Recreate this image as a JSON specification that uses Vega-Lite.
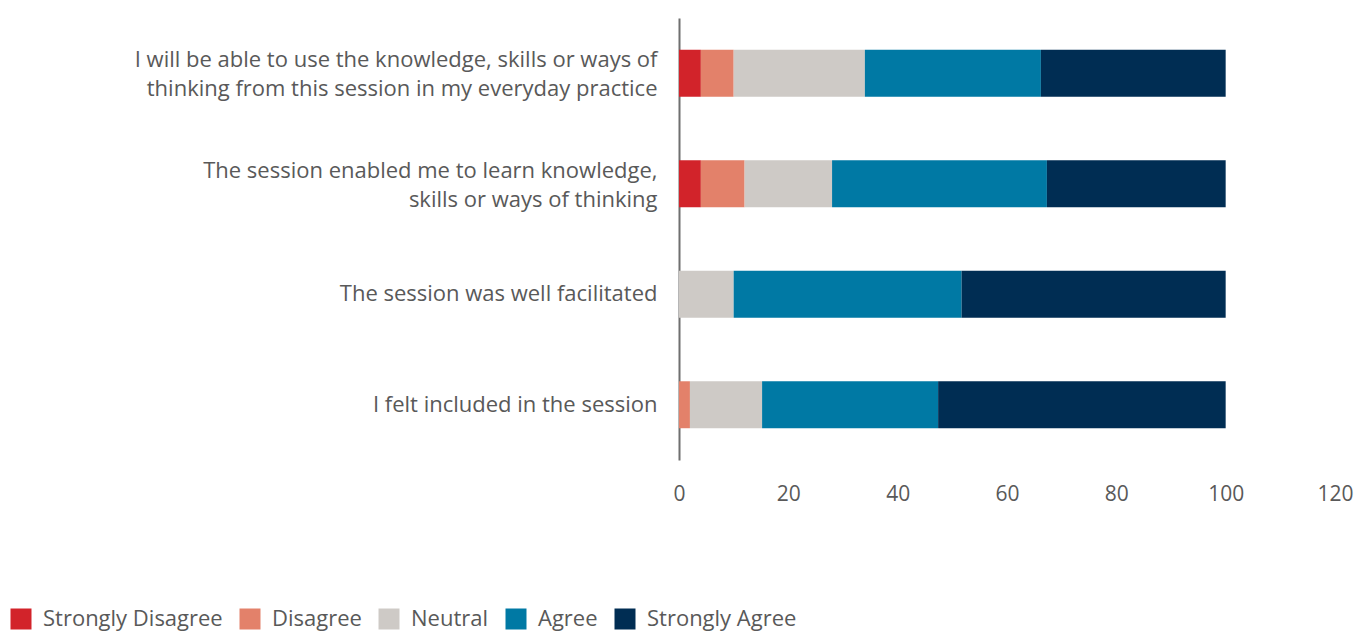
{
  "$schema": "https://vega.github.io/schema/vega-lite/v6.json",
  "autosize": "none",
  "width": 656,
  "height": 442,
  "padding": {"left": 679, "top": 18, "right": 20, "bottom": 173},
  "background": "white",
  "config": {"view": {"stroke": null}, "font": "Open Sans"},
  "data": {
    "values": [
      {"q": "I will be able to use the knowledge, skills or ways of|thinking from this session in my everyday practice", "r": "Strongly Disagree", "k": 1, "v": 4},
      {"q": "I will be able to use the knowledge, skills or ways of|thinking from this session in my everyday practice", "r": "Disagree", "k": 2, "v": 6},
      {"q": "I will be able to use the knowledge, skills or ways of|thinking from this session in my everyday practice", "r": "Neutral", "k": 3, "v": 24},
      {"q": "I will be able to use the knowledge, skills or ways of|thinking from this session in my everyday practice", "r": "Agree", "k": 4, "v": 32.2},
      {"q": "I will be able to use the knowledge, skills or ways of|thinking from this session in my everyday practice", "r": "Strongly Agree", "k": 5, "v": 33.8},
      {"q": "The session enabled me to learn knowledge,|skills or ways of thinking", "r": "Strongly Disagree", "k": 1, "v": 4},
      {"q": "The session enabled me to learn knowledge,|skills or ways of thinking", "r": "Disagree", "k": 2, "v": 8},
      {"q": "The session enabled me to learn knowledge,|skills or ways of thinking", "r": "Neutral", "k": 3, "v": 16},
      {"q": "The session enabled me to learn knowledge,|skills or ways of thinking", "r": "Agree", "k": 4, "v": 39.3},
      {"q": "The session enabled me to learn knowledge,|skills or ways of thinking", "r": "Strongly Agree", "k": 5, "v": 32.7},
      {"q": "The session was well facilitated", "r": "Neutral", "k": 3, "v": 10},
      {"q": "The session was well facilitated", "r": "Agree", "k": 4, "v": 41.7},
      {"q": "The session was well facilitated", "r": "Strongly Agree", "k": 5, "v": 48.3},
      {"q": "I felt included in the session", "r": "Disagree", "k": 2, "v": 2},
      {"q": "I felt included in the session", "r": "Neutral", "k": 3, "v": 13.2},
      {"q": "I felt included in the session", "r": "Agree", "k": 4, "v": 32.2},
      {"q": "I felt included in the session", "r": "Strongly Agree", "k": 5, "v": 52.6}
    ]
  },
  "mark": {"type": "bar"},
  "encoding": {
    "y": {
      "field": "q",
      "type": "nominal",
      "sort": null,
      "title": null,
      "scale": {"paddingInner": 0.575, "paddingOuter": 0.2875},
      "axis": {
        "labelExpr": "split(datum.value, '|')",
        "labelFontSize": 22,
        "labelColor": "#595959",
        "labelLineHeight": 29,
        "labelOffset": {"condition": {"test": "indexof(datum.value, '|') >= 0", "value": -13}, "value": 0},
        "labelPadding": 22,
        "labelLimit": 700,
        "ticks": false,
        "domainColor": "#6f6f6f",
        "domainWidth": 2
      }
    },
    "x": {
      "field": "v",
      "type": "quantitative",
      "stack": "zero",
      "title": null,
      "scale": {"domain": [0, 120], "nice": false},
      "axis": {
        "values": [0, 20, 40, 60, 80, 100, 120],
        "grid": false,
        "domain": false,
        "ticks": false,
        "labelFontSize": 21,
        "labelColor": "#595959",
        "labelPadding": 23,
        "labelFlush": false
      }
    },
    "order": {"field": "k", "type": "quantitative"},
    "color": {
      "field": "r",
      "type": "nominal",
      "scale": {
        "domain": ["Strongly Disagree", "Disagree", "Neutral", "Agree", "Strongly Agree"],
        "range": ["#D2232A", "#E3816A", "#CECAC6", "#0079A4", "#002D53"]
      },
      "legend": {
        "title": null,
        "orient": "none",
        "direction": "horizontal",
        "legendX": -669,
        "legendY": 590,
        "symbolType": "square",
        "symbolSize": 441,
        "symbolStrokeWidth": 0,
        "labelFontSize": 22,
        "labelColor": "#595959",
        "labelOffset": 11,
        "columnPadding": 16,
        "labelLimit": 300
      }
    }
  }
}
